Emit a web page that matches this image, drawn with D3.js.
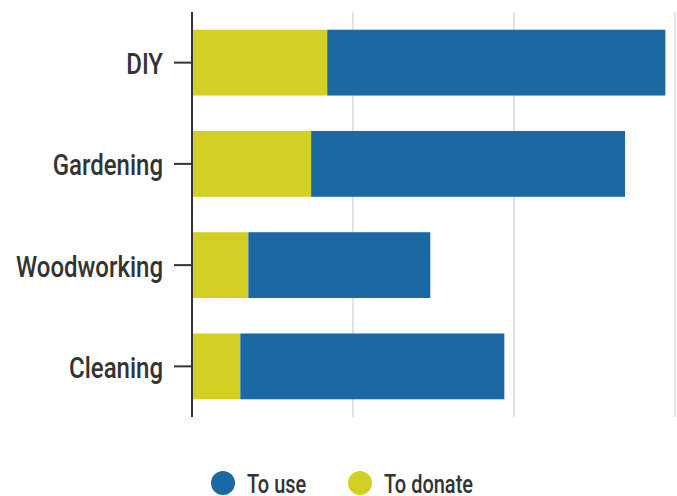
<!DOCTYPE html>
<html lang="en">
<head>
    <meta charset="UTF-8">
    <title>Stacked bars</title>
    <style>
        body { margin: 0; background: #fff; }
        text { font-family: Roboto, "Noto Sans", sans-serif; fill: #333; }
    </style>
</head>
<body>
    <div id="chart"></div>
    <script src="https://d3js.org/d3.v7.min.js"></script>
    <script>
        var categories = ["DIY", "Gardening", "Woodworking", "Cleaning"];
        var toDonate = [8.4, 7.4, 3.5, 3.0];
        var toUse = [21.0, 19.5, 11.3, 16.4];
        var keys = ["To donate", "To use"];
        var gridTicks = [10, 20, 30];

        var width = 677, height = 496;
        var margin = {top: 12, right: 2, bottom: 79, left: 192};
        var squeeze = 0.8; // condensed look for Roboto

        var color = d3.scaleOrdinal()
            .domain(keys)
            .range(["#d4cf24", "#1b68a3"]);

        var rows = categories.map(function(c, i) {
            return {category: c, "To donate": toDonate[i], "To use": toUse[i]};
        });

        var svg = d3.select('#chart')
            .append('svg')
                .attr('width', width)
                .attr('height', height);

        var x = d3.scaleLinear()
            .domain([0, 30])
            .range([margin.left, 675]);

        var y = d3.scaleBand()
            .domain(categories)
            .range([margin.top, height - margin.bottom])
            .paddingInner(0.35)
            .paddingOuter(0.175);

        // gridlines
        svg.append('g')
            .selectAll('line')
            .data(gridTicks)
            .enter().append('line')
                .attr('x1', d => x(d))
                .attr('x2', d => x(d))
                .attr('y1', margin.top)
                .attr('y2', height - margin.bottom)
                .attr('stroke', '#e3e3e3')
                .attr('stroke-width', 2);

        var series = d3.stack().keys(keys)(rows);

        svg.append('g')
            .selectAll('g')
            .data(series)
            .enter().append('g')
                .attr('fill', d => color(d.key))
            .selectAll('rect')
            .data(d => d)
            .enter().append('rect')
                .attr('x', d => x(d[0]))
                .attr('y', d => y(d.data.category))
                .attr('width', d => x(d[1]) - x(d[0]))
                .attr('height', y.bandwidth());

        var yAxis = svg.append('g')
            .attr('transform', 'translate(' + margin.left + ',0)')
            .call(d3.axisLeft(y).tickSize(18).tickPadding(11));

        yAxis.select('.domain')
            .attr('stroke', '#333')
            .attr('stroke-width', 2)
            .attr('d', 'M0,' + margin.top + 'V' + (height - margin.bottom));
        yAxis.selectAll('.tick line')
            .attr('stroke', '#333')
            .attr('stroke-width', 2);
        yAxis.selectAll('.tick text')
            .attr('font-family', 'Roboto, sans-serif')
            .attr('font-size', 30)
            .attr('font-weight', 500)
            .attr('fill', '#333')
            .attr('x', -29 / squeeze)
            .attr('dy', '0.38em')
            .attr('transform', 'scale(' + squeeze + ',1)');

        // legend
        var legendX = [223, 360];
        var legend = svg.append('g')
            .selectAll('g')
            .data(["To use", "To donate"])
            .enter().append('g')
                .attr('transform', (d, i) => 'translate(' + legendX[i] + ',483)');

        legend.append('circle')
            .attr('r', 12)
            .attr('fill', d => color(d));

        legend.append('g')
            .attr('transform', 'translate(24,0) scale(' + squeeze + ',1)')
            .append('text')
                .attr('dy', '0.38em')
                .attr('font-size', 25)
                .attr('font-weight', 500)
                .text(d => d);
    </script>
</body>
</html>
